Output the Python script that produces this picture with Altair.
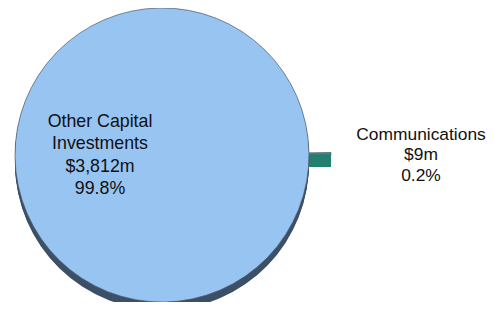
import math
import altair as alt
import pandas as pd

categories = ["Communications", "Other Capital Investments"]
values = [9, 3812]
amounts = ["$9m", "$3,812m"]
percents = ["0.2%", "99.8%"]
order = [0, 1]

df = pd.DataFrame({"category": categories, "value": values, "order": order})

total = sum(values)
start = math.pi / 2 - 2 * math.pi * values[0] / total

CX, CY = 154, 147
R_MAIN, R_EXPL = 147, 169
DEPTH_MAIN, DEPTH_EXPL = 8, 12

top_colors = ["#2a9384", "#98c4f2"]
depth_colors = ["#23806f", "#3c5068"]


def arc_layer(colors, y_off, stroke=None):
    kw = {}
    if stroke:
        kw = dict(stroke=stroke, strokeWidth=0.7)
    base = alt.Chart(df).transform_calculate(
        r=f"datum.category == 'Communications' ? {R_EXPL} : {R_MAIN}",
        d=f"datum.category == 'Communications' ? {DEPTH_EXPL} : {DEPTH_MAIN}",
    )
    return base.mark_arc(yOffset=y_off, **kw).encode(
        theta=alt.Theta("value:Q", stack=True,
                        scale=alt.Scale(range=[start, start + 2 * math.pi])),
        order=alt.Order("order:Q"),
        color=alt.Color("category:N", scale=alt.Scale(domain=categories, range=colors), legend=None),
        opacity=alt.condition(f"datum.d >= {y_off}", alt.value(1), alt.value(0)),
        radius=alt.Radius("r:Q", scale=None),
        x=alt.value(CX),
        y=alt.value(CY),
    )


layers = [arc_layer(depth_colors, k) for k in range(DEPTH_EXPL, 0, -1)]
layers.append(arc_layer(top_colors, 0, stroke="#4a5a6a"))

labels = pd.DataFrame({
    "label": [
        "Other Capital\nInvestments\n" + amounts[1] + "\n" + percents[1],
    ],
})
labels2 = pd.DataFrame({
    "label": [categories[0] + "\n" + amounts[0] + "\n" + percents[0]],
})

main_text = alt.Chart(labels).mark_text(
    font="Liberation Sans", fontSize=17.8, lineBreak="\n", lineHeight=22.3,
    align="center", baseline="middle", color="#111111"
).encode(text="label:N", x=alt.value(92), y=alt.value(114))

comm_text = alt.Chart(labels2).mark_text(
    font="Liberation Sans", fontSize=17.4, lineBreak="\n", lineHeight=20.5,
    align="center", baseline="middle", color="#111111"
).encode(text="label:N", x=alt.value(413), y=alt.value(126.5))

chart = alt.layer(*layers, main_text, comm_text).resolve_scale(
    color="independent"
).properties(
    width=479, height=294, padding=0, autosize="none"
).configure_view(stroke=None)

chart.save("out.html", embed_options={"renderer": "svg", "actions": False})
